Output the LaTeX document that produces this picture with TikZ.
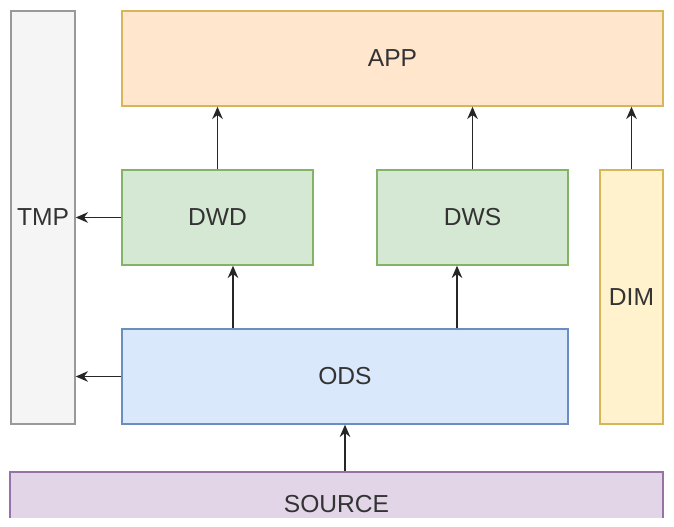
\documentclass[tikz,border=0pt]{standalone}
\usepackage{fontspec}
\setmainfont{Liberation Sans}
\usetikzlibrary{arrows.meta}
\definecolor{appfill}{HTML}{FFE6CC}
\definecolor{appline}{HTML}{D6B656}
\definecolor{dwfill}{HTML}{D5E8D4}
\definecolor{dwline}{HTML}{82B366}
\definecolor{odsfill}{HTML}{DAE8FC}
\definecolor{odsline}{HTML}{6C8EBF}
\definecolor{dimfill}{HTML}{FFF2CC}
\definecolor{tmpfill}{HTML}{F5F5F5}
\definecolor{tmpline}{HTML}{999999}
\definecolor{srcfill}{HTML}{E1D5E7}
\definecolor{srcline}{HTML}{9673A6}

\begin{document}
\begin{tikzpicture}[x=0.02cm,y=-0.02cm,>={Stealth[length=7pt,width=6pt]},
  box/.style={draw,line width=0.8pt,inner sep=0pt,text=black!80,font=\fontsize{14}{16}\selectfont},
  arr/.style={->,line width=1.1pt,black!85}]
\useasboundingbox (0,0) rectangle (674,527);
% layers
\node[box,fill=tmpfill,draw=tmpline,minimum width=1.28cm,minimum height=8.26cm] (tmp) at (43,217.5) {TMP};
\node[box,fill=appfill,draw=appline,minimum width=10.82cm,minimum height=1.9cm] (app) at (392.5,58.5) {APP};
\node[box,fill=dwfill,draw=dwline,minimum width=3.82cm,minimum height=1.9cm] (dwd) at (217.5,217.5) {DWD};
\node[box,fill=dwfill,draw=dwline,minimum width=3.82cm,minimum height=1.9cm] (dws) at (472.5,217.5) {DWS};
\node[box,fill=dimfill,draw=appline,minimum width=1.26cm,minimum height=5.08cm] (dim) at (631.5,297) {DIM};
\node[box,fill=odsfill,draw=odsline,minimum width=8.92cm,minimum height=1.9cm] (ods) at (345,376.5) {ODS};
\begin{scope}
\clip (0,0) rectangle (674,518);
\node[box,fill=srcfill,draw=srcline,minimum width=13.06cm,minimum height=1.28cm] (src) at (336.5,504) {SOURCE};
\end{scope}
% arrows
\draw[arr] (dwd.north) -- (dwd.north |- app.south);
\draw[arr] (dws.north) -- (dws.north |- app.south);
\draw[arr] (dim.north) -- (dim.north |- app.south);
\draw[arr] (dwd.west) -- (dwd.west -| tmp.east);
\draw[arr] (ods.west) -- (ods.west -| tmp.east);
\draw[arr] ([xshift=0.31cm]dwd.south |- ods.north) -- ([xshift=0.31cm]dwd.south);
\draw[arr] ([xshift=-0.31cm]dws.south |- ods.north) -- ([xshift=-0.31cm]dws.south);
\draw[arr] (src.north -| ods.south) -- (ods.south);
\end{tikzpicture}
\end{document}
